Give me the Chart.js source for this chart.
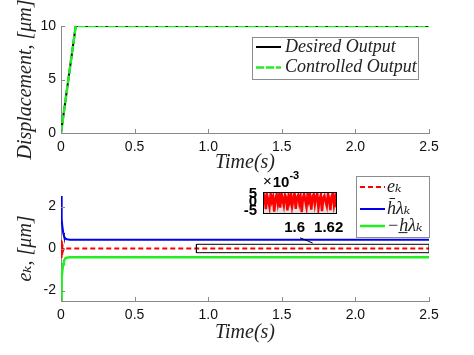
<!DOCTYPE html>
<html><head><meta charset="utf-8">
<script src="https://cdn.jsdelivr.net/npm/chart.js@4/dist/chart.umd.min.js"></script>
<style>
html,body{margin:0;padding:0;background:#fff;}
#wrap{position:relative;width:474px;height:355px;overflow:hidden;}
canvas{position:absolute;left:0;top:0;}
</style></head><body>
<div id="wrap">
<canvas id="cTop" width="474" height="355"></canvas>
<canvas id="cBot" width="474" height="355"></canvas>
<canvas id="cIns" width="474" height="355"></canvas>
</div>
<script>
// ---------- data ----------
const timeTicks = [0, 0.5, 1, 1.5, 2, 2.5];
const dispTicks = [0, 5, 10];
const errTicks = [-2, 0, 2];

const desiredT = [0, 0.1, 2.5];
const desiredY = [0, 10, 10];
const controlledT = [0, 0.1, 2.5];
const controlledY = [0, 10, 10];

const errT = [0, 0.002, 0.004, 0.006, 0.008, 0.010, 0.014, 0.020, 0.030, 2.5];
const errY = [0, 0.42, -0.45, 0.35, -0.30, 0.20, -0.10, 0.04, 0, 0];

const upperT = [0, 0.003, 0.006, 0.010, 0.015, 0.020, 0.025, 0.030, 0.040, 0.060, 0.10, 2.5];
const upperY = [2.5, 1.9, 1.4, 1.0, 0.75, 0.60, 0.52, 0.47, 0.44, 0.42, 0.42, 0.42];
const lowerT = [0, 0.003, 0.006, 0.010, 0.015, 0.020, 0.025, 0.030, 0.040, 0.060, 0.10, 2.5];
const lowerY = [-2.5, -1.9, -1.4, -1.0, -0.75, -0.60, -0.52, -0.47, -0.44, -0.42, -0.42, -0.42];

const zoomBoxT = [0.92, 2.5, 2.5, 0.92, 0.92];
const zoomBoxY = [-0.2, -0.2, 0.2, 0.2, -0.2];
const connectorT = [1.624, 1.71];
const connectorY = [0.51, 0.26];

const insetT = [1.5818,1.5825,1.5832,1.5839,1.5846,1.5853,1.5860,1.5867,1.5874,1.5881,
  1.5888,1.5895,1.5902,1.5909,1.5916,1.5923,1.5930,1.5937,1.5944,1.5951,
  1.5958,1.5965,1.5972,1.5979,1.5986,1.5993,1.6000,1.6007,1.6014,1.6021,
  1.6028,1.6035,1.6042,1.6049,1.6056,1.6063,1.6070,1.6077,1.6084,1.6091,
  1.6098,1.6105,1.6112,1.6119,1.6126,1.6133,1.6140,1.6147,1.6154,1.6161,
  1.6168,1.6175,1.6182,1.6189,1.6196,1.6203,1.6210,1.6217,1.6224,1.6231,
  1.6238,1.6245];
const insetE = [-0.0010,0.0025,-0.0040,0.0038,0.0012,-0.0026,0.0046,0.0005,0.0031,-0.0055,
  0.0020,0.0044,-0.0008,0.0036,-0.0032,0.0050,0.0015,-0.0019,0.0042,0.0028,
  -0.0048,0.0033,0.0002,0.0049,-0.0024,0.0018,0.0052,-0.0039,0.0026,0.0040,
  -0.0005,0.0034,-0.0058,0.0022,0.0047,0.0010,-0.0028,0.0051,0.0008,0.0039,
  -0.0043,0.0029,0.0045,-0.0013,0.0030,0.0053,-0.0035,0.0017,0.0041,-0.0052,
  0.0024,0.0037,0.0004,-0.0022,0.0048,0.0019,-0.0046,0.0032,0.0050,-0.0016,
  0.0027,-0.0030];
const insetXTicks = [1.6, 1.62];
const insetYTicks = [-0.005, 0, 0.005];

// ---------- helpers ----------
const pts = (xs, ys) => xs.map((x, i) => ({x: x, y: ys[i]}));
const SERIF = "'Liberation Serif', 'DejaVu Serif', serif";
const SANS = "'Liberation Sans', Arial, sans-serif";
const AX = '#8a8a8a';

const inwardTicks = {
  id: 'inwardTicks',
  afterDraw(chart, args, o) {
    if (!o || !o.len) return;
    const ctx = chart.ctx, a = chart.chartArea, x = chart.scales.x, y = chart.scales.y;
    ctx.save();
    ctx.strokeStyle = AX; ctx.lineWidth = 1;
    ctx.beginPath();
    x.ticks.forEach(t => { const px = Math.round(x.getPixelForValue(t.value)) + 0.5; ctx.moveTo(px, a.bottom); ctx.lineTo(px, a.bottom - o.len); });
    y.ticks.forEach(t => { const py = Math.round(y.getPixelForValue(t.value)) + 0.5; ctx.moveTo(a.left, py); ctx.lineTo(a.left + o.len, py); });
    ctx.stroke();
    ctx.restore();
  }
};

const boxLegend = {
  id: 'boxLegend',
  afterDraw(chart, args, o) {
    if (!o || !o.rows) return;
    const ctx = chart.ctx;
    ctx.save();
    ctx.fillStyle = '#fff';
    ctx.fillRect(o.x, o.y, o.w, o.h);
    ctx.strokeStyle = '#8c8c8c'; ctx.lineWidth = 1;
    ctx.strokeRect(o.x + 0.5, o.y + 0.5, o.w, o.h);
    ctx.font = o.font; ctx.textBaseline = 'middle'; ctx.textAlign = 'left';
    o.rows.forEach(r => {
      const ds = chart.data.datasets[r.ds];
      const yy = o.y + r.dy;
      ctx.strokeStyle = ds.borderColor; ctx.lineWidth = ds.borderWidth;
      ctx.setLineDash(ds.borderDash || []);
      ctx.beginPath(); ctx.moveTo(o.x + o.lx0, yy); ctx.lineTo(o.x + o.lx1, yy); ctx.stroke();
      ctx.setLineDash([]);
      ctx.fillStyle = '#222';
      ctx.fillText(ds.label, o.x + o.tx, yy);
    });
    ctx.restore();
  }
};

function mainScales(yMin, yMax, yTicks, yTitle, xH) {
  return {
    x: {
      type: 'linear', min: 0, max: 2.5,
      afterBuildTicks: s => { s.ticks = timeTicks.map(v => ({value: v})); },
      afterFit: s => { s.height = xH; },
      grid: {display: false, drawTicks: false},
      border: {display: true, color: AX, width: 1},
      ticks: {color: '#111', font: {family: SANS, size: 14}, padding: 6, autoSkip: false, maxRotation: 0},
      title: {display: true, text: 'Time(s)', color: '#222', font: {family: SERIF, size: 20, style: 'italic'}, padding: {top: 0, bottom: 0}}
    },
    y: {
      type: 'linear', min: yMin, max: yMax,
      afterBuildTicks: s => { s.ticks = yTicks.map(v => ({value: v})); },
      afterFit: s => { s.width = 47; },
      grid: {display: false, drawTicks: false},
      border: {display: true, color: AX, width: 1},
      ticks: {color: '#111', font: {family: SANS, size: 14}, padding: 5, autoSkip: false},
      title: {display: true, text: yTitle, color: '#222', font: {family: SERIF, size: 20, style: 'italic'}, padding: {top: 0, bottom: 0}}
    }
  };
}

const common = {
  responsive: false, animation: false, devicePixelRatio: 1,
  elements: {point: {radius: 0}, line: {tension: 0}},
};

// ---------- top chart ----------
new Chart(document.getElementById('cTop'), {
  type: 'line',
  data: {datasets: [
    {label: 'Desired Output', data: pts(desiredT, desiredY), borderColor: '#000', borderWidth: 2, order: 1},
    {label: 'Controlled Output', data: pts(controlledT, controlledY), borderColor: '#22ee22', borderWidth: 2.5, borderDash: [8, 2], order: 0}
  ]},
  options: Object.assign({}, common, {
    layout: {padding: {left: 14, right: 45, top: 26, bottom: 180}},
    scales: mainScales(0, 10, dispTicks, 'Displacement, [μm]', 42),
    plugins: {
      legend: {display: false}, tooltip: {enabled: false},
      inwardTicks: {len: 4},
      boxLegend: {x: 252, y: 37, w: 166, h: 42, font: 'italic 18px ' + SERIF, lx0: 4, lx1: 29, tx: 33,
        rows: [{ds: 0, dy: 10}, {ds: 1, dy: 30.5}]}
    }
  }),
  plugins: [inwardTicks, boxLegend]
});

// ---------- bottom chart ----------
new Chart(document.getElementById('cBot'), {
  type: 'line',
  data: {datasets: [
    {label: 'eₖ', data: pts(errT, errY), borderColor: '#ff0000', borderWidth: 2, borderDash: [5, 3], order: 1},
    {label: 'h̄λₖ', data: pts(upperT, upperY), borderColor: '#0000ee', borderWidth: 2, order: 2},
    {label: '−h̲λₖ', data: pts(lowerT, lowerY), borderColor: '#22ee22', borderWidth: 2.5, order: 3},
    {label: 'zoom box', data: pts(zoomBoxT, zoomBoxY), borderColor: '#000', borderWidth: 1, order: 0},
    {label: 'connector', data: pts(connectorT, connectorY), borderColor: '#000', borderWidth: 1, order: 0}
  ]},
  options: Object.assign({}, common, {
    layout: {padding: {left: 14, right: 45, top: 196, bottom: 10}},
    scales: mainScales(-2.5, 2.5, errTicks, 'eₖ, [μm]', 44),
    plugins: {
      legend: {display: false}, tooltip: {enabled: false},
      inwardTicks: {len: 4},
      boxLegend: {x: 356, y: 176, w: 73, h: 61, font: 'italic 18px ' + SERIF, lx0: 4, lx1: 29, tx: 31,
        rows: [{ds: 0, dy: 11}, {ds: 1, dy: 33}, {ds: 2, dy: 50}]}
    }
  }),
  plugins: [inwardTicks, boxLegend]
});

// ---------- inset chart ----------
const insetDeco = {
  id: 'insetDeco',
  beforeDatasetsDraw(chart) {
    const a = chart.chartArea, ctx = chart.ctx;
    ctx.save(); ctx.fillStyle = '#e2e2e2';
    ctx.fillRect(a.left, a.top, a.right - a.left, a.bottom - a.top);
    ctx.restore();
  },
  afterDraw(chart) {
    const a = chart.chartArea, ctx = chart.ctx;
    ctx.save();
    ctx.strokeStyle = '#000'; ctx.lineWidth = 1;
    ctx.strokeRect(Math.round(a.left) + 0.5, Math.round(a.top) + 0.5, Math.round(a.right - a.left), Math.round(a.bottom - a.top));
    ctx.fillStyle = '#000'; ctx.textBaseline = 'middle'; ctx.textAlign = 'left';
    ctx.font = '15px ' + SANS;
    ctx.fillText('×', a.left, a.top - 10);
    const w1 = ctx.measureText('×').width;
    ctx.font = 'bold 15px ' + SANS;
    ctx.fillText('10', a.left + w1 + 1, a.top - 9);
    const w2 = ctx.measureText('10').width;
    ctx.font = 'bold 11px ' + SANS;
    ctx.fillText('-3', a.left + w1 + 1 + w2, a.top - 16);
    ctx.restore();
  }
};

new Chart(document.getElementById('cIns'), {
  type: 'line',
  data: {datasets: [
    {label: 'eₖ zoom', data: pts(insetT, insetE), borderColor: '#ff0000', borderWidth: 2.5}
  ]},
  options: Object.assign({}, common, {
    layout: {padding: {left: 233, right: 138, top: 192, bottom: 117}},
    scales: {
      x: {
        type: 'linear', min: 1.5815, max: 1.6243,
        afterBuildTicks: s => { s.ticks = insetXTicks.map(v => ({value: v})); },
        afterFit: s => { s.height = 25; },
        grid: {display: false, drawTicks: false}, border: {display: false},
        ticks: {color: '#000', font: {family: SANS, size: 15, weight: 'bold'}, padding: 6, autoSkip: false, maxRotation: 0,
          callback: v => String(v)}
      },
      y: {
        type: 'linear', min: -0.0063, max: 0.0059,
        afterBuildTicks: s => { s.ticks = insetYTicks.map(v => ({value: v})); },
        afterFit: s => { s.width = 30; },
        grid: {display: false, drawTicks: false}, border: {display: false},
        ticks: {color: '#000', font: {family: SANS, size: 15, weight: 'bold'}, padding: 6, autoSkip: false,
          callback: v => String(Math.round(v * 1000))}
      }
    },
    plugins: {legend: {display: false}, tooltip: {enabled: false}}
  }),
  plugins: [insetDeco]
});
</script>
</body></html>
